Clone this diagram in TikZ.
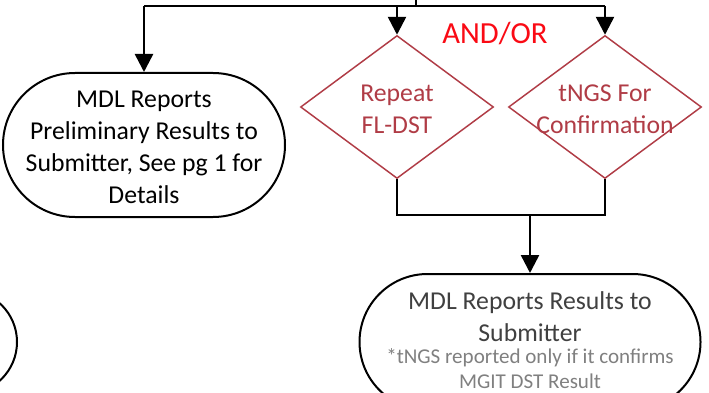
\documentclass[tikz,border=0pt]{standalone}
\usepackage{fontspec}
\setmainfont{Carlito}
\usetikzlibrary{arrows.meta,shapes.geometric,shapes.misc}
\definecolor{decred}{RGB}{176,60,70}
\definecolor{andred}{RGB}{250,10,20}
\definecolor{maingrey}{RGB}{64,64,64}
\definecolor{notegrey}{RGB}{128,128,128}
\tikzset{
  flow/.style={line width=1.9pt},
  arr/.style={flow,-{Triangle[width=13.5pt,length=13.5pt]}},
  terminal/.style={rounded rectangle,draw=black,line width=1.5pt,inner sep=0pt},
  decision/.style={diamond,draw=decred,line width=1.1pt,inner sep=0pt,
    minimum width=144.75pt,minimum height=107.25pt},
  bigtext/.style={align=center,font=\fontsize{19.3}{24}\selectfont},
  dectext/.style={bigtext,text=decred},
  notetext/.style={align=center,text=notegrey,font=\fontsize{15.8}{18.5}\selectfont}
}
\begin{document}
\begin{tikzpicture}[x=0.75pt,y=-0.75pt]
\clip (0,0) rectangle (709,392);
\fill[white] (0,0) rectangle (709,392);

% terminals and decisions
\node[terminal,minimum width=211.5pt,minimum height=108pt] (prelim) at (144,145) {};
\node[bigtext] (prelimtext) at (144,147) {MDL Reports\\Preliminary Results to\\Submitter, See pg 1 for\\Details};

\node[decision] (repeat) at (397,107) {};
\node[dectext] (repeattext) at (397,109) {Repeat\\FL-DST};
\node[decision] (tngs) at (605,107) {};
\node[dectext] (tngstext) at (605,109) {tNGS For\\Confirmation};

\node[text=andred,font=\fontsize{23}{28}\selectfont] (andor) at (495,34) {AND/OR};

\node[terminal,minimum width=255.75pt,minimum height=102pt] (final) at (530,342) {};
\node[bigtext,text=maingrey] (finaltext) at (530,317) {MDL Reports Results to\\Submitter};
\node[notetext] (finalnote) at (530,368.5) {*tNGS reported only if it confirms\\MGIT DST Result};

\node[terminal,minimum width=150pt,minimum height=78pt] (side) at (-83,342) {};

% connectors
\coordinate (feed) at (416,0);
\coordinate (split) at (416,6);
\coordinate (merge) at (530,215);
\draw[flow] (feed) -- (split);
\draw[flow] (prelim.north |- split) -- (tngs.north |- split);
\draw[arr] (prelim.north |- split) -- (prelim.north);
\draw[arr] (repeat.north |- split) -- (repeat.north);
\draw[arr] (tngs.north |- split) -- (tngs.north);
\draw[flow] (repeat.south) |- (merge) -| (tngs.south);
\draw[arr] (merge) -- (final.north);
\end{tikzpicture}
\end{document}
